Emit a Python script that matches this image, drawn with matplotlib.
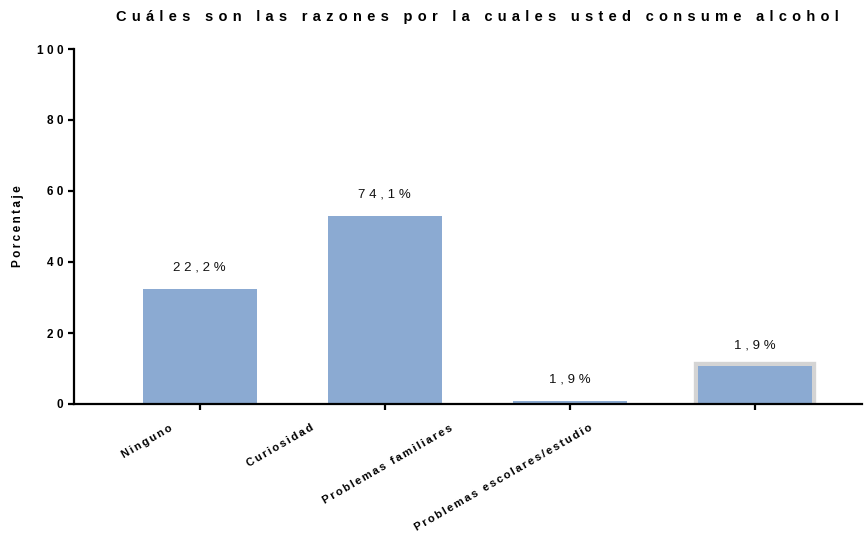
import matplotlib
matplotlib.use("Agg")
import matplotlib.pyplot as plt
import matplotlib.transforms as mtransforms
import matplotlib.patheffects as pe

categories = ["Ninguno", "Curiosidad", "Problemas familiares", "Problemas escolares/estudio"]
values = [32.4, 53.0, 0.9, 10.6]
value_labels = ["22,2%", "74,1%", "1,9%", "1,9%"]
yticks = [0, 20, 40, 60, 80, 100]
title = "Cuáles son las razones por la cuales usted consume alcohol"
ylabel = "Porcentaje"

FAM = ["Liberation Sans", "DejaVu Sans"]
plt.rcParams['font.family'] = FAM

def spaced(s, sp="\u2009"):
    return sp.join(s)

fig = plt.figure(figsize=(8.66, 5.36), dpi=100)
ax = fig.add_axes([74/866, 1-404/536, (862-74)/866, (404-49)/536])

bar_color = "#8BAAD2"
x = list(range(len(categories)))
bars = ax.bar(x, values, width=0.615, color=bar_color, edgecolor="none", zorder=2)
bars[3].set_path_effects([pe.Stroke(linewidth=6, foreground="#D4D4D4", joinstyle="miter"), pe.Normal()])

for xi, v, lab in zip(x, values, value_labels):
    ax.annotate(spaced(lab, "\u2009\u200a"), (xi, v), xytext=(0, 11), textcoords="offset points",
                ha="center", va="bottom", fontsize=9.5, color="#111111")

ax.set_xlim(-0.68, 3.58)
ax.set_ylim(0, 100)
ax.set_yticks(yticks)
ax.set_yticklabels([spaced(str(t), "\u2009\u200a") for t in yticks], fontsize=8.5, fontweight="bold")
ax.set_xticks(x)
ax.set_xticklabels([""] * len(x))

offsets = [-28, -72, -118, -163]
base = ax.get_xaxis_transform()
for xi, c, dx in zip(x, categories, offsets):
    tr = base + mtransforms.ScaledTranslation(dx/100, -23/100, fig.dpi_scale_trans)
    ax.text(xi, 0, spaced(c, "\u2006"), transform=tr, fontsize=8, fontweight="bold",
            rotation=30, ha="right", va="center", rotation_mode="anchor")

for s in ["top", "right"]:
    ax.spines[s].set_visible(False)
for s in ["left", "bottom"]:
    ax.spines[s].set_linewidth(1.6)
ax.tick_params(axis="both", width=1.6, length=4.5, color="black", pad=3)

fig.text(18/866, 1-226/536, spaced(ylabel), rotation=90, ha="center", va="center",
         fontsize=8.5, fontweight="bold")
fig.text(477/866, 1-17/536, spaced(title, "\u2009\u2006"), ha="center", va="center",
         fontsize=10.5, fontweight="bold")

fig.savefig("out.png", dpi=100)
